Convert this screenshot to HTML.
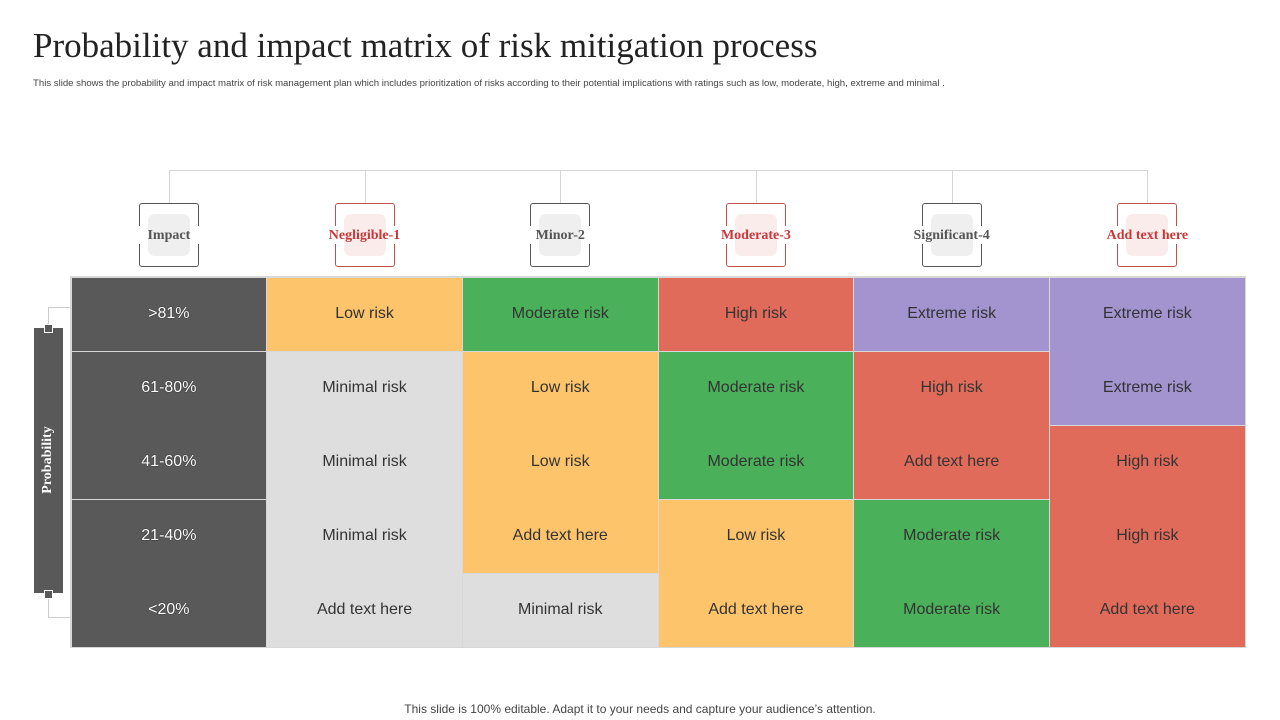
<!DOCTYPE html>
<html><head><meta charset="utf-8">
<style>
body{margin:0;width:1280px;height:720px;background:#fff;position:relative;overflow:hidden;font-family:"Liberation Sans",sans-serif}
.abs{position:absolute}
#title{left:33px;top:26px;font-family:"Liberation Serif",serif;font-size:35px;color:#222;white-space:nowrap}
#sub{left:33px;top:78px;font-size:9.6px;color:#444;white-space:nowrap}
#foot{left:0;width:1280px;top:702px;text-align:center;font-size:12px;color:#444}
.hbox{width:60px;height:64px;border:1.3px solid #555;border-radius:3px;box-sizing:border-box}
.hbox.red{border-color:#c0504d}
.hgap{width:4px;height:18px;background:#fff}
.hin{width:42px;height:42px;border-radius:7px;background:#efefef}
.hin.red{background:#fbecec}
.htxt{font-family:"Liberation Serif",serif;font-weight:bold;font-size:14px;color:#555;text-align:center;width:140px;white-space:nowrap}
.htxt.red{color:#c8383a}
.cell{font-size:16px;color:#333;text-align:center;width:196px;line-height:20px}
.lab{color:#fff;text-shadow:0 0 1px #000}
</style></head><body>
<div id="title" class="abs">Probability and impact matrix of risk mitigation process</div>
<div id="sub" class="abs">This slide shows the probability and impact matrix of risk management plan which includes prioritization of risks according to their potential implications with ratings such as low, moderate, high, extreme and minimal .</div>
<div id="foot" class="abs">This slide is 100% editable. Adapt it to your needs and capture your audience’s attention.</div>
<div id="chart" class="abs" style="left:0;top:0;width:1280px;height:720px"></div>
<script>
const headers=["Impact","Negligible-1","Minor-2","Moderate-3","Significant-4","Add text here"];
const rowLabels=[">81%","61-80%","41-60%","21-40%","<20%"];
const cellText=[
["Low risk","Moderate risk","High risk","Extreme risk","Extreme risk"],
["Minimal risk","Low risk","Moderate risk","High risk","Extreme risk"],
["Minimal risk","Low risk","Moderate risk","Add text here","High risk"],
["Minimal risk","Add text here","Low risk","Moderate risk","High risk"],
["Add text here","Minimal risk","Add text here","Moderate risk","Add text here"]];
// blocks: [col, rowStart, rowEnd(inclusive), level]
const blocks=[[-1,0,0,"dark"],[-1,1,2,"dark"],[-1,3,4,"dark"],
[0,0,0,"low"],[0,1,4,"minimal"],
[1,0,0,"moderate"],[1,1,3,"low"],[1,4,4,"minimal"],
[2,0,0,"high"],[2,1,2,"moderate"],[2,3,4,"low"],
[3,0,0,"extreme"],[3,1,2,"high"],[3,3,4,"moderate"],
[4,0,1,"extreme"],[4,2,4,"high"]];
const colors={dark:"#595959",low:"#fdc46b",moderate:"#4bb05a",high:"#e06b5a",extreme:"#a393cf",minimal:"#dedede"};
const C=document.getElementById('chart');
const X0=71,CW=195.7,Y0=277,RH=74;
const cx=i=>X0+CW*i+CW/2, colX=c=>X0+CW*(c+1), rowY=r=>Y0+RH*r;
function mk(cls,css){const d=document.createElement('div');d.className='abs '+cls;Object.assign(d.style,css);C.appendChild(d);return d;}
// connector
let h=mk('',{left:cx(0)+'px',top:'170px',width:(cx(5)-cx(0))+'px',height:'1px',background:'#d6d6d6'});


headers.forEach((t,i)=>{
 const red=i%2==1?' red':'';const x=cx(i);
 let v=mk('',{left:x+'px',top:'170px',width:'1px',height:'33px',background:'#d6d6d6'});
 
 
 let b=mk('hbox'+red,{left:(x-30)+'px',top:'203px'});
 
 
 mk('hgap',{left:(x-32)+'px',top:'226px'});mk('hgap',{left:(x+28)+'px',top:'226px'});
 mk('hin'+red,{left:(x-21)+'px',top:'214px'});
 let tx=mk('htxt'+red,{left:(x-70)+'px',top:'228px'});tx.textContent=t;
 
 
});
mk('',{left:'70px',top:'276px',width:'1176px',height:'372px',background:'#d8d8d8'});
blocks.forEach(b=>{
 let r=mk('',{left:(colX(b[0])+0.5)+'px',top:(rowY(b[1])+0.5)+'px',width:(CW-1)+'px',height:(RH*(b[2]-b[1]+1)-1)+'px',background:colors[b[3]]});
 
 
});
rowLabels.forEach((t,r)=>{
 let l=mk('cell lab',{left:(cx(0)-98)+'px',top:(rowY(r)+RH/2-10)+'px'});l.textContent=t;
 
 
 cellText[r].forEach((s,c)=>{
  let e=mk('cell',{left:(cx(c+1)-98)+'px',top:(rowY(r)+RH/2-10)+'px'});e.textContent=s;
  
  
 });
});
// probability bar
let pl=mk('',{left:'48px',top:'307px',width:'23px',height:'311px',borderTop:'1px solid #ccc',borderBottom:'1px solid #ccc',borderLeft:'1px solid #ccc',boxSizing:'border-box'});


let pb=mk('',{left:'34px',top:'328px',width:'29px',height:'265px',background:'#595959'});


mk('',{left:'44px',top:'324px',width:'7px',height:'7px',background:'#595959',border:'1px solid #fff'});
mk('',{left:'44px',top:'590px',width:'7px',height:'7px',background:'#595959',border:'1px solid #fff'});
let pt=mk('',{left:'-2px',top:'452px',width:'100px',textAlign:'center',transform:'rotate(-90deg)',color:'#fff',fontFamily:'"Liberation Serif",serif',fontWeight:'bold',fontSize:'14px'});
pt.textContent='Probability';


</script>
</body></html>
